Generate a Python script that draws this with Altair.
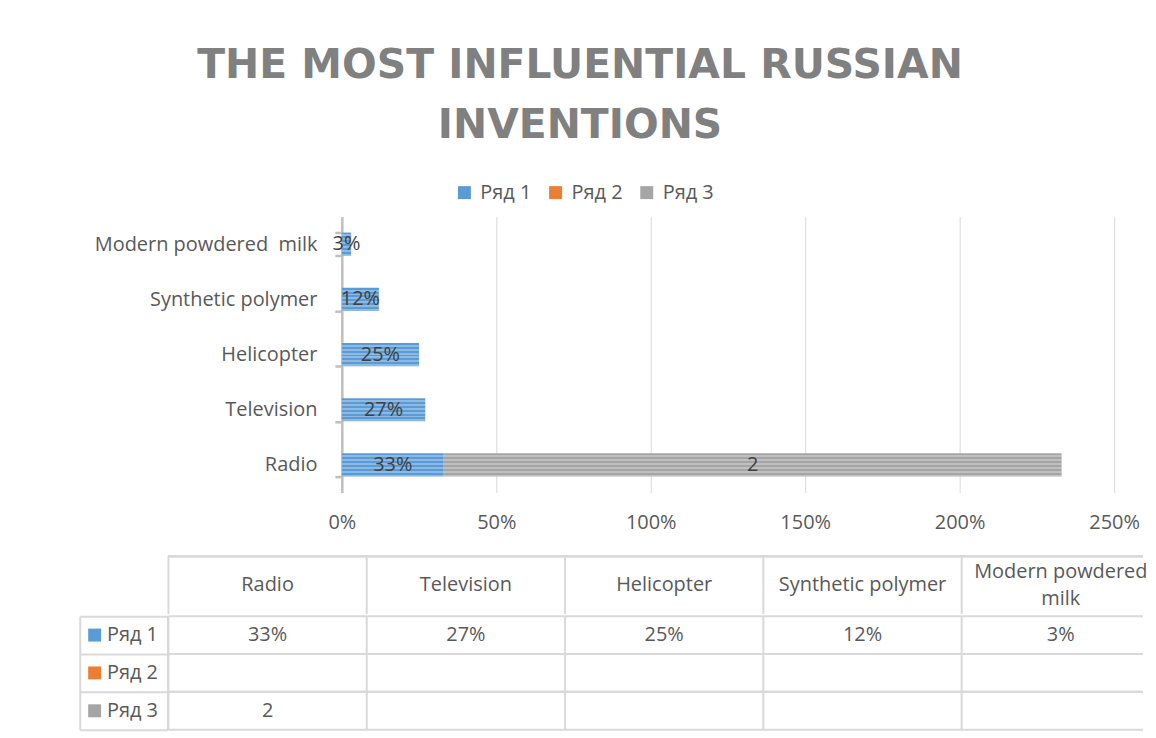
import altair as alt
import pandas as pd

# ---------------- data ----------------
title_line1 = "THE MOST INFLUENTIAL RUSSIAN"
title_line2 = "INVENTIONS"
categories = ["Radio", "Television", "Helicopter", "Synthetic polymer", "Modern powdered  milk"]
series_names = ["Ряд 1", "Ряд 2", "Ряд 3"]
series_colors = ["#5b9bd5", "#ed7d31", "#a5a5a5"]
row1_values = [0.33, 0.27, 0.25, 0.12, 0.03]
row2_values = [None, None, None, None, None]
row3_values = [2, None, None, None, None]
x_tick_values = [0, 0.5, 1.0, 1.5, 2.0, 2.5]

records = []
for s_i, (name, vals) in enumerate(zip(series_names, [row1_values, row2_values, row3_values])):
    for cat, v in zip(categories, vals):
        if v is None:
            txt = ""
        elif s_i == 0:
            txt = f"{round(v * 100)}%"
        else:
            txt = f"{v:g}"
        records.append(dict(category=cat, series=name, sorder=s_i, value=v, text=txt))
df = pd.DataFrame(records)
bars_df = df[df["value"].notna()].copy()

# ---------------- styles ----------------
FONT = "Open Sans"
TXT = "#595959"
GRID = "#d9d9d9"
AX = "#bfbfbf"
FS = 20

color_scale = alt.Scale(domain=series_names, range=series_colors)
y_order = categories[::-1]

stops = []
n = 6
for k in range(n):
    a, b, c = k / n, (k + 0.5) / n, (k + 1) / n
    stops += [
        alt.GradientStop(color="rgba(255,255,255,0)", offset=a),
        alt.GradientStop(color="rgba(255,255,255,0)", offset=b),
        alt.GradientStop(color="rgba(255,255,255,0.3)", offset=b),
        alt.GradientStop(color="rgba(255,255,255,0.3)", offset=c),
    ]
stripes = alt.LinearGradient(gradient="linear", stops=stops, x1=0, x2=0, y1=0, y2=1)

# ---------------- bar chart ----------------
base = alt.Chart(bars_df).transform_stack(
    stack="value", groupby=["category"], sort=[alt.SortField("sorder")], as_=["v0", "v1"]
).transform_calculate(vmid="(datum.v0 + datum.v1) / 2")

y_enc = alt.Y(
    "category:N",
    sort=y_order,
    scale=alt.Scale(paddingInner=0.58, paddingOuter=0.29),
    axis=alt.Axis(
        title=None, labelFont=FONT, labelFontSize=FS, labelColor=TXT, labelPadding=18,
        labelLimit=400, tickSize=7, tickColor=AX, tickWidth=2.5, domainColor=AX,
        domainWidth=2.5, tickBand="extent", grid=False, minExtent=262,
        labelExpr="replace(datum.label, '  ', '\u00a0 ')",
    ),
)
x_enc = alt.X(
    "v0:Q",
    scale=alt.Scale(domain=[0, 2.5], nice=False, zero=True),
    axis=alt.Axis(
        values=x_tick_values, format="%", grid=True, gridColor=GRID, gridWidth=1,
        domain=False, ticks=False, labelFont=FONT, labelFontSize=FS, labelColor=TXT,
        labelPadding=20, labelFlush=False, title=None, minExtent=63,
    ),
)

bars = base.mark_bar().encode(
    x=x_enc, x2="v1:Q", y=y_enc,
    color=alt.Color(
        "series:N", scale=color_scale,
        legend=alt.Legend(
            orient="none", legendX=376, legendY=-34, direction="horizontal", title=None,
            symbolType="square", symbolSize=169, symbolStrokeWidth=0, labelFont=FONT,
            labelFontSize=FS, labelColor=TXT, columnPadding=13.5, labelOffset=6, padding=0,
        ),
    ),
)
bar_stripes = base.mark_bar(color=stripes).encode(
    x="v0:Q", x2="v1:Q", y=alt.Y("category:N", sort=y_order), detail="series:N"
)
bar_text = base.mark_text(font=FONT, fontSize=FS, color="#404040").encode(
    x="vmid:Q", y=alt.Y("category:N", sort=y_order), text="text:N"
)
top = alt.layer(bars, bar_stripes, bar_text).properties(
    width=775, height=277, view=alt.ViewBackground(stroke=None)
)

# ---------------- data table ----------------
grid_axis = alt.Axis(
    title=None, labels=False, ticks=False, domain=False, grid=True,
    gridColor=GRID, gridWidth=2, tickBand="extent",
)
no_view = alt.ViewBackground(stroke=None)
band0 = alt.Scale(paddingInner=0, paddingOuter=0)
col_scale = alt.Scale(paddingInner=0, paddingOuter=0, range=[0, 995])
TABLE_W = 978

cat_df = pd.DataFrame({"category": categories})


def col_rules():
    return alt.Chart(cat_df).mark_rule(color=GRID, strokeWidth=2).encode(
        x=alt.X("category:N", sort=categories, scale=col_scale, axis=None, bandPosition=0)
    )


def row_rules(frame, field, order, positions):
    return [
        alt.Chart(frame).mark_rule(color=GRID, strokeWidth=2).encode(
            y=alt.Y(f"{field}:N", sort=order, scale=band0, axis=None, bandPosition=pos)
        )
        for pos in positions
    ]


def blank(w, h):
    return alt.Chart(pd.DataFrame({"t": [""]})).mark_text().encode(text="t:N").properties(
        width=w, height=h, view=no_view
    )


cat_x = alt.X("category:N", sort=categories, scale=col_scale, axis=None)

header_df = pd.DataFrame({"category": categories, "row": ["h"] * len(categories)})
header_base = alt.Chart(header_df).encode(
    x=cat_x, y=alt.Y("row:N", scale=band0, axis=None), text="category:N"
)
header_single = header_base.transform_filter("indexof(datum.category, '  ') < 0").mark_text(
    font=FONT, fontSize=FS, color=TXT
)
header_multi = header_base.transform_filter("indexof(datum.category, '  ') >= 0").mark_text(
    font=FONT, fontSize=FS, color=TXT, lineBreak="  ", lineHeight=27, dy=-13.5
)
header = alt.layer(
    header_single, header_multi, col_rules(), *row_rules(header_df, "row", ["h"], [0])
).properties(width=TABLE_W, height=58, view=no_view)

label_df = pd.DataFrame({"series": series_names, "col": ["c"] * len(series_names)})
ser_y_grid = alt.Y("series:N", sort=series_names, scale=band0, axis=grid_axis)
label_sq = alt.Chart(label_df).mark_square(size=169, filled=True, opacity=1).encode(
    x=alt.X("col:N", scale=band0, axis=grid_axis, bandPosition=0.17),
    y=ser_y_grid,
    fill=alt.Fill("series:N", scale=color_scale, legend=None),
)
label_tx = alt.Chart(label_df).mark_text(align="left", font=FONT, fontSize=FS, color=TXT).encode(
    x=alt.X("col:N", scale=band0, axis=grid_axis, bandPosition=0.31),
    y=ser_y_grid, text="series:N",
)
label_col = alt.layer(label_sq, label_tx).properties(width=88, height=114, view=no_view)

cells_text = alt.Chart(df).mark_text(font=FONT, fontSize=FS, color=TXT).encode(
    x=cat_x,
    y=alt.Y("series:N", sort=series_names, scale=band0, axis=None),
    text="text:N",
)
cells = alt.layer(
    cells_text,
    col_rules(),
    *row_rules(pd.DataFrame({"series": series_names}), "series", series_names, [0, 1]),
).properties(width=TABLE_W, height=114, view=no_view)

chart = alt.vconcat(
    alt.hconcat(blank(1, 277), top, spacing=0),
    alt.hconcat(blank(88, 58), header, spacing=0),
    alt.hconcat(label_col, cells, spacing=0),
    spacing=0,
).properties(
    title=alt.TitleParams(
        text=title_line1, subtitle=title_line2,
        font="DejaVu Sans", fontSize=41, fontWeight="bold", color="#808080",
        subtitleFont="DejaVu Sans", subtitleFontSize=41, subtitleFontWeight="bold",
        subtitleColor="#808080", subtitlePadding=19,
        anchor="start", align="center", dx=502, offset=36,
    ),
    padding={"left": 72, "top": 36, "right": 0, "bottom": 0},
).configure(font=FONT)

chart.save("out.html", embed_options={"renderer": "svg", "actions": False})
